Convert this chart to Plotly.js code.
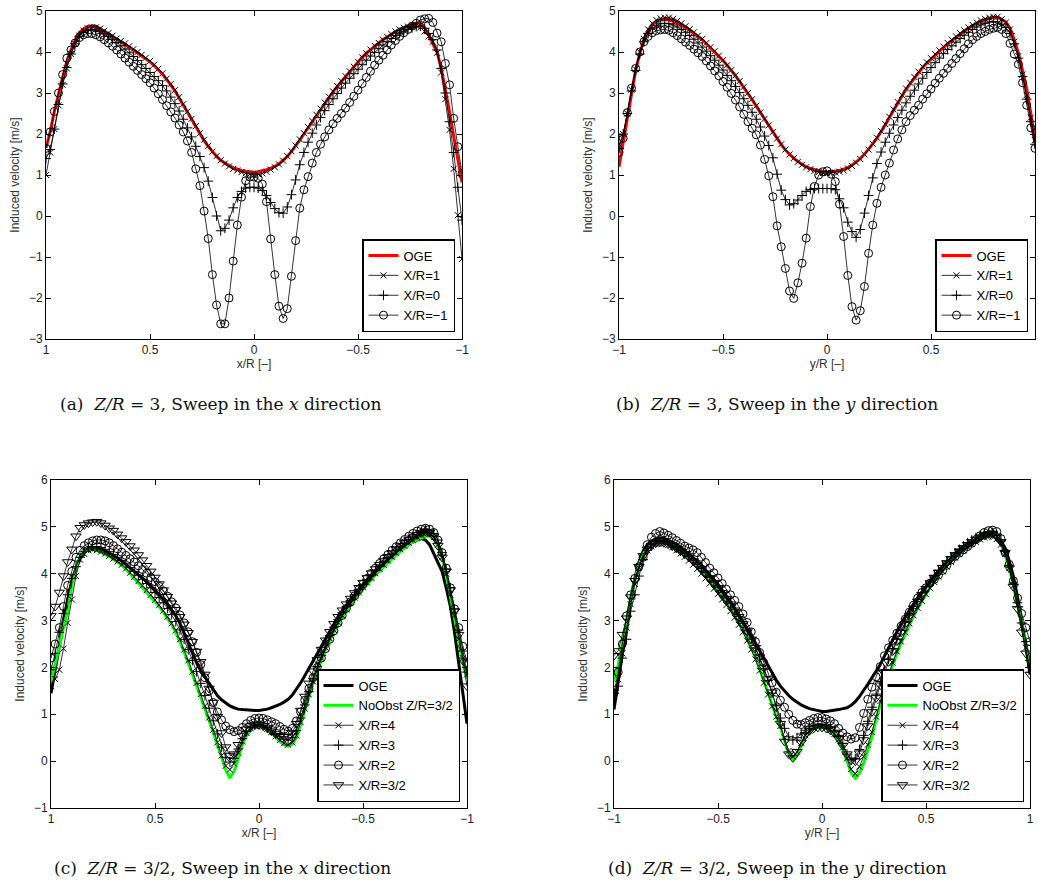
<!DOCTYPE html>
<html>
<head>
<meta charset="utf-8">
<script src="https://cdn.plot.ly/plotly-3.0.1.min.js"></script>
<style>html,body{margin:0;padding:0;background:#fff;}#chart{width:1038px;height:891px;}</style>
</head>
<body>
<div id="chart"></div>
<script>
// x grids (panels a,c use the reversed x/R sweep; b,d the y/R sweep)
const xDesc = [1,0.98,0.96,0.94,0.92,0.9,0.88,0.86,0.84,0.82,
0.8,0.78,0.76,0.74,0.72,0.7,0.68,0.66,0.64,0.62,
0.6,0.58,0.56,0.54,0.52,0.5,0.48,0.46,0.44,0.42,
0.4,0.38,0.36,0.34,0.32,0.3,0.28,0.26,0.24,0.22,
0.2,0.18,0.16,0.14,0.12,0.1,0.08,0.06,0.04,0.02,
0,-0.02,-0.04,-0.06,-0.08,-0.1,-0.12,-0.14,-0.16,-0.18,
-0.2,-0.22,-0.24,-0.26,-0.28,-0.3,-0.32,-0.34,-0.36,-0.38,
-0.4,-0.42,-0.44,-0.46,-0.48,-0.5,-0.52,-0.54,-0.56,-0.58,
-0.6,-0.62,-0.64,-0.66,-0.68,-0.7,-0.72,-0.74,-0.76,-0.78,
-0.8,-0.82,-0.84,-0.86,-0.88,-0.9,-0.92,-0.94,-0.96,-0.98,
-1];
const xAsc = [-1,-0.98,-0.96,-0.94,-0.92,-0.9,-0.88,-0.86,-0.84,-0.82,
-0.8,-0.78,-0.76,-0.74,-0.72,-0.7,-0.68,-0.66,-0.64,-0.62,
-0.6,-0.58,-0.56,-0.54,-0.52,-0.5,-0.48,-0.46,-0.44,-0.42,
-0.4,-0.38,-0.36,-0.34,-0.32,-0.3,-0.28,-0.26,-0.24,-0.22,
-0.2,-0.18,-0.16,-0.14,-0.12,-0.1,-0.08,-0.06,-0.04,-0.02,
0,0.02,0.04,0.06,0.08,0.1,0.12,0.14,0.16,0.18,
0.2,0.22,0.24,0.26,0.28,0.3,0.32,0.34,0.36,0.38,
0.4,0.42,0.44,0.46,0.48,0.5,0.52,0.54,0.56,0.58,
0.6,0.62,0.64,0.66,0.68,0.7,0.72,0.74,0.76,0.78,
0.8,0.82,0.84,0.86,0.88,0.9,0.92,0.94,0.96,0.98,
1];

// ---- Panel (a): Z/R=3, sweep in x (values listed in xDesc order) ----
const ogeA = [1.66,2.05,2.55,2.98,3.38,3.76,4.05,4.28,4.47,4.56,
4.62,4.64,4.63,4.56,4.5,4.44,4.38,4.31,4.25,4.19,
4.12,4.05,3.98,3.91,3.84,3.76,3.67,3.57,3.46,3.33,
3.2,3.05,2.88,2.71,2.53,2.35,2.17,2.0,1.84,1.7,
1.56,1.45,1.36,1.29,1.23,1.18,1.14,1.11,1.09,1.08,
1.07,1.08,1.1,1.13,1.17,1.21,1.27,1.35,1.45,1.57,
1.7,1.85,2.0,2.15,2.3,2.45,2.6,2.75,2.9,3.03,
3.16,3.28,3.4,3.52,3.63,3.76,3.87,3.97,4.06,4.15,
4.22,4.3,4.37,4.44,4.5,4.56,4.6,4.64,4.67,4.7,
4.7,4.6,4.42,4.2,4.0,3.6,3.1,2.55,1.95,1.38,
0.82];
const xr1A = [1.0,1.55,2.12,2.7,3.2,3.6,3.95,4.2,4.4,4.52,
4.58,4.6,4.6,4.57,4.52,4.46,4.4,4.33,4.27,4.21,
4.14,4.07,4.0,3.93,3.86,3.78,3.69,3.59,3.48,3.35,
3.22,3.07,2.9,2.73,2.55,2.37,2.19,2.02,1.86,1.71,
1.57,1.46,1.36,1.28,1.21,1.15,1.11,1.07,1.04,1.02,
1.01,1.02,1.04,1.08,1.13,1.19,1.26,1.35,1.46,1.58,
1.72,1.87,2.02,2.17,2.32,2.47,2.62,2.77,2.91,3.04,
3.17,3.29,3.41,3.53,3.64,3.76,3.87,3.97,4.06,4.15,
4.22,4.3,4.37,4.44,4.5,4.55,4.59,4.62,4.64,4.64,
4.6,4.5,4.38,4.25,3.98,3.5,2.85,2.1,1.15,0.02,
-1.05];
const xr0A = [1.4,1.62,2.12,2.72,3.22,3.62,3.95,4.2,4.38,4.48,
4.53,4.55,4.54,4.5,4.44,4.38,4.31,4.23,4.15,4.07,
3.98,3.89,3.79,3.69,3.6,3.5,3.4,3.3,3.18,3.05,
2.9,2.74,2.56,2.36,2.15,1.93,1.7,1.45,1.18,0.85,
0.45,0.0,-0.36,-0.3,-0.1,0.2,0.45,0.6,0.68,0.7,
0.7,0.68,0.62,0.5,0.33,0.18,0.08,0.07,0.22,0.52,
0.88,1.25,1.55,1.8,2.02,2.22,2.4,2.57,2.72,2.86,
2.99,3.12,3.24,3.36,3.47,3.58,3.69,3.8,3.9,3.99,
4.08,4.17,4.25,4.33,4.4,4.46,4.51,4.55,4.59,4.62,
4.63,4.58,4.45,4.3,4.05,3.6,3.0,2.3,1.55,0.7,
-0.1];
const xrm1A = [1.65,2.05,2.55,3.0,3.45,3.85,4.05,4.22,4.35,4.42,
4.45,4.45,4.42,4.37,4.3,4.22,4.14,4.05,3.95,3.85,
3.75,3.65,3.55,3.45,3.35,3.25,3.12,2.98,2.84,2.69,
2.54,2.39,2.22,2.05,1.83,1.55,1.15,0.74,0.12,-0.55,
-1.43,-2.17,-2.63,-2.63,-2.0,-1.1,-0.22,0.46,0.86,0.95,
0.95,0.92,0.78,0.35,-0.56,-1.43,-2.2,-2.5,-2.26,-1.47,
-0.6,0.19,0.64,0.96,1.29,1.55,1.75,1.93,2.1,2.25,
2.38,2.5,2.63,2.77,2.92,3.07,3.23,3.38,3.53,3.68,
3.8,3.92,4.05,4.17,4.28,4.38,4.47,4.55,4.63,4.7,
4.78,4.81,4.82,4.72,4.46,4.25,3.72,3.2,2.38,1.69,
1.03];

// ---- Panel (b): Z/R=3, sweep in y (xAsc order) ----
const ogeB = [1.2,1.8,2.45,3.05,3.55,3.97,4.3,4.52,4.66,4.74,
4.78,4.8,4.79,4.76,4.71,4.66,4.6,4.53,4.46,4.38,
4.3,4.2,4.1,4.0,3.9,3.79,3.67,3.55,3.42,3.28,
3.14,2.99,2.84,2.68,2.52,2.36,2.2,2.04,1.88,1.74,
1.61,1.5,1.41,1.33,1.26,1.2,1.16,1.13,1.1,1.08,
1.07,1.08,1.09,1.11,1.14,1.18,1.24,1.31,1.4,1.51,
1.63,1.76,1.9,2.05,2.22,2.4,2.58,2.76,2.93,3.09,
3.23,3.37,3.5,3.62,3.73,3.83,3.93,4.02,4.11,4.2,
4.28,4.36,4.44,4.51,4.58,4.64,4.7,4.75,4.79,4.82,
4.85,4.84,4.8,4.73,4.58,4.3,3.98,3.55,3.1,2.5,
1.8];
const xr1B = [1.75,2.0,2.5,3.08,3.58,4.0,4.32,4.55,4.7,4.78,
4.82,4.84,4.84,4.81,4.76,4.7,4.63,4.56,4.48,4.4,
4.32,4.22,4.12,4.02,3.91,3.8,3.68,3.56,3.43,3.29,
3.15,3.0,2.85,2.69,2.53,2.37,2.21,2.05,1.89,1.75,
1.62,1.5,1.41,1.32,1.25,1.19,1.14,1.1,1.07,1.05,
1.04,1.05,1.06,1.08,1.11,1.16,1.22,1.3,1.39,1.5,
1.62,1.76,1.91,2.07,2.24,2.42,2.6,2.78,2.95,3.11,
3.25,3.39,3.52,3.64,3.75,3.85,3.95,4.04,4.13,4.22,
4.3,4.38,4.46,4.53,4.6,4.66,4.72,4.77,4.81,4.84,
4.86,4.86,4.8,4.72,4.55,4.25,3.9,3.45,2.95,2.4,
1.85];
const xr0B = [1.65,2.0,2.5,3.05,3.55,3.95,4.25,4.45,4.58,4.65,
4.69,4.7,4.69,4.66,4.61,4.55,4.48,4.4,4.31,4.22,
4.12,4.02,3.91,3.8,3.68,3.56,3.43,3.3,3.16,3.01,
2.86,2.7,2.53,2.36,2.17,1.95,1.72,1.42,1.02,0.63,
0.4,0.27,0.3,0.39,0.5,0.6,0.65,0.67,0.67,0.67,
0.67,0.67,0.64,0.42,0.2,-0.15,-0.38,-0.52,-0.33,0.07,
0.5,0.93,1.28,1.56,1.8,2.02,2.22,2.4,2.58,2.76,
2.92,3.07,3.22,3.36,3.5,3.62,3.74,3.85,3.96,4.06,
4.15,4.24,4.33,4.41,4.48,4.55,4.61,4.66,4.7,4.73,
4.74,4.73,4.68,4.6,4.45,4.2,3.85,3.4,2.85,2.3,
1.75];
const xrm1B = [1.55,1.9,2.52,3.12,3.6,4.0,4.25,4.38,4.47,4.52,
4.54,4.55,4.53,4.47,4.4,4.32,4.24,4.16,4.07,3.98,
3.89,3.78,3.66,3.54,3.42,3.28,3.14,2.99,2.83,2.66,
2.48,2.3,2.14,1.98,1.73,1.38,0.98,0.47,-0.24,-0.75,
-1.28,-1.83,-2.01,-1.63,-1.15,-0.54,0.23,0.72,1.0,1.08,
1.1,1.02,0.84,0.29,-0.5,-1.45,-2.21,-2.54,-2.31,-1.72,
-0.91,-0.22,0.31,0.7,1.0,1.29,1.61,1.88,2.1,2.3,
2.45,2.58,2.7,2.85,2.98,3.1,3.24,3.36,3.48,3.6,
3.72,3.84,3.96,4.08,4.2,4.3,4.38,4.45,4.5,4.55,
4.58,4.6,4.55,4.45,4.21,3.95,3.7,3.25,2.7,2.15,
1.65];

// ---- Panel (c): Z/R=3/2, sweep in x (xDesc order) ----
const ogeC = [1.45,1.95,2.5,3.0,3.45,3.85,4.12,4.32,4.45,4.52,
4.55,4.55,4.53,4.49,4.44,4.39,4.33,4.27,4.2,4.13,
4.06,3.99,3.91,3.83,3.74,3.65,3.55,3.45,3.34,3.22,
3.1,2.94,2.73,2.5,2.3,2.1,1.93,1.8,1.67,1.53,
1.4,1.31,1.24,1.18,1.14,1.11,1.1,1.09,1.08,1.08,
1.08,1.09,1.11,1.14,1.17,1.21,1.26,1.32,1.41,1.53,
1.67,1.82,1.98,2.14,2.3,2.47,2.63,2.79,2.94,3.08,
3.21,3.33,3.45,3.56,3.67,3.77,3.87,3.96,4.05,4.14,
4.22,4.3,4.38,4.45,4.52,4.58,4.63,4.68,4.72,4.75,
4.72,4.62,4.42,4.22,4.05,3.7,3.3,2.75,2.15,1.45,
0.8];
const noObstC = [1.7,2.05,2.45,2.85,3.2,3.75,4.12,4.38,4.48,4.52,
4.52,4.5,4.46,4.42,4.37,4.31,4.25,4.18,4.1,4.0,
3.9,3.81,3.72,3.62,3.52,3.41,3.3,3.18,3.05,2.91,
2.75,2.55,2.33,2.1,1.86,1.62,1.38,1.13,0.88,0.62,
0.35,0.08,-0.18,-0.36,-0.22,0.05,0.35,0.55,0.67,0.73,
0.74,0.72,0.67,0.6,0.5,0.42,0.35,0.32,0.36,0.5,
0.78,1.08,1.38,1.66,1.92,2.16,2.38,2.58,2.76,2.92,
3.07,3.2,3.33,3.45,3.56,3.67,3.77,3.87,3.97,4.06,
4.15,4.24,4.32,4.4,4.48,4.55,4.62,4.68,4.73,4.77,
4.8,4.8,4.74,4.6,4.35,4.0,3.55,3.05,2.55,2.1,
1.75];
const xr4C = [1.6,1.75,1.95,2.4,2.95,3.45,3.95,4.3,4.42,4.5,
4.52,4.5,4.47,4.43,4.38,4.32,4.26,4.19,4.11,4.02,
3.93,3.84,3.75,3.65,3.55,3.44,3.33,3.21,3.08,2.94,
2.79,2.6,2.38,2.15,1.91,1.67,1.43,1.18,0.93,0.67,
0.4,0.12,-0.1,-0.18,-0.05,0.18,0.42,0.6,0.7,0.75,
0.76,0.74,0.69,0.62,0.53,0.45,0.38,0.35,0.4,0.55,
0.83,1.12,1.42,1.7,1.96,2.2,2.42,2.62,2.8,2.96,
3.11,3.24,3.37,3.49,3.6,3.71,3.81,3.91,4.01,4.1,
4.19,4.28,4.36,4.44,4.52,4.59,4.66,4.72,4.78,4.83,
4.86,4.85,4.78,4.62,4.35,4.0,3.55,3.1,2.6,2.2,
1.85];
const xr3C = [1.95,2.3,2.75,3.15,3.55,3.9,4.15,4.35,4.48,4.55,
4.58,4.58,4.56,4.52,4.47,4.41,4.35,4.28,4.21,4.13,
4.05,3.97,3.88,3.79,3.7,3.6,3.49,3.38,3.26,3.13,
2.98,2.8,2.6,2.38,2.15,1.91,1.66,1.4,1.13,0.86,
0.58,0.3,0.08,-0.02,0.06,0.26,0.48,0.63,0.72,0.77,
0.78,0.76,0.72,0.66,0.58,0.52,0.47,0.45,0.5,0.65,
0.92,1.2,1.48,1.76,2.02,2.26,2.48,2.68,2.86,3.02,
3.17,3.3,3.43,3.55,3.66,3.77,3.87,3.97,4.07,4.16,
4.25,4.34,4.42,4.5,4.58,4.65,4.72,4.78,4.84,4.9,
4.94,4.93,4.86,4.72,4.45,4.1,3.7,3.25,2.8,2.35,
1.9];
const xr2C = [2.2,2.5,2.85,3.3,3.75,4.05,4.35,4.5,4.6,4.66,
4.7,4.72,4.72,4.7,4.66,4.6,4.53,4.46,4.39,4.32,
4.25,4.17,4.09,4.01,3.92,3.83,3.73,3.63,3.52,3.4,
3.27,3.12,2.95,2.76,2.55,2.32,2.06,1.78,1.5,1.25,
1.05,0.88,0.75,0.67,0.63,0.65,0.72,0.8,0.87,0.91,
0.92,0.91,0.88,0.84,0.8,0.74,0.68,0.64,0.7,0.86,
1.05,1.3,1.55,1.78,2.0,2.2,2.4,2.6,2.78,2.95,
3.11,3.26,3.4,3.53,3.66,3.78,3.9,4.01,4.12,4.22,
4.32,4.41,4.5,4.58,4.66,4.73,4.8,4.86,4.91,4.95,
4.97,4.95,4.88,4.72,4.45,4.12,3.7,3.25,2.85,2.45,
2.1];
const xr15C = [3.1,3.3,3.6,3.95,4.25,4.52,4.8,4.98,5.04,5.08,
5.1,5.11,5.08,5.03,4.97,4.92,4.84,4.76,4.68,4.59,
4.5,4.4,4.29,4.17,4.05,3.92,3.78,3.65,3.51,3.37,
3.23,3.08,2.92,2.74,2.55,2.34,2.12,1.85,1.55,1.25,
0.95,0.6,0.3,0.12,0.15,0.35,0.55,0.68,0.75,0.78,
0.78,0.75,0.7,0.64,0.58,0.54,0.52,0.53,0.6,0.8,
1.08,1.38,1.66,1.92,2.16,2.38,2.58,2.76,2.93,3.08,
3.22,3.35,3.47,3.59,3.7,3.81,3.91,4.01,4.1,4.19,
4.28,4.36,4.44,4.52,4.59,4.66,4.72,4.78,4.83,4.87,
4.9,4.88,4.8,4.6,4.35,4.05,3.65,3.2,2.7,2.15,
1.6];

// ---- Panel (d): Z/R=3/2, sweep in y (xAsc order) ----
const ogeD = [1.1,1.7,2.35,2.95,3.45,3.9,4.25,4.48,4.62,4.7,
4.74,4.76,4.75,4.72,4.68,4.63,4.57,4.5,4.43,4.35,
4.27,4.18,4.08,3.98,3.88,3.77,3.65,3.53,3.4,3.26,
3.12,2.98,2.83,2.68,2.52,2.36,2.2,2.04,1.88,1.73,
1.6,1.49,1.4,1.32,1.26,1.2,1.16,1.12,1.1,1.08,
1.06,1.06,1.07,1.08,1.1,1.12,1.14,1.19,1.27,1.38,
1.5,1.64,1.78,1.92,2.06,2.24,2.42,2.6,2.77,2.93,
3.08,3.22,3.36,3.49,3.61,3.73,3.84,3.95,4.05,4.15,
4.24,4.33,4.42,4.5,4.57,4.63,4.68,4.73,4.77,4.8,
4.82,4.82,4.78,4.7,4.55,4.28,3.95,3.5,3.0,2.45,
1.85];
const noObstD = [1.7,2.05,2.5,3.0,3.45,3.85,4.2,4.42,4.55,4.63,
4.68,4.7,4.69,4.66,4.61,4.55,4.48,4.41,4.33,4.24,
4.15,4.05,3.95,3.84,3.73,3.62,3.5,3.38,3.25,3.11,
2.96,2.8,2.62,2.43,2.22,1.98,1.72,1.45,1.17,0.95,
0.72,0.45,0.15,0.03,0.12,0.32,0.5,0.62,0.69,0.72,
0.72,0.7,0.65,0.56,0.43,0.25,0.0,-0.25,-0.36,-0.25,
-0.05,0.22,0.52,0.88,1.22,1.52,1.8,2.06,2.3,2.52,
2.72,2.91,3.09,3.26,3.42,3.57,3.71,3.84,3.96,4.07,
4.17,4.27,4.36,4.44,4.51,4.58,4.64,4.69,4.74,4.78,
4.8,4.8,4.75,4.63,4.42,4.12,3.75,3.35,2.92,2.5,
2.1];
const xr4D = [1.4,1.75,2.3,2.85,3.35,3.78,4.12,4.36,4.5,4.58,
4.63,4.65,4.64,4.61,4.56,4.5,4.43,4.36,4.28,4.19,
4.1,4.0,3.9,3.79,3.68,3.57,3.45,3.33,3.2,3.06,
2.91,2.75,2.57,2.38,2.17,1.93,1.67,1.42,1.17,0.95,
0.75,0.5,0.22,0.1,0.2,0.39,0.55,0.65,0.71,0.74,
0.74,0.72,0.67,0.58,0.46,0.29,0.06,-0.17,-0.27,-0.12,
0.1,0.35,0.62,0.95,1.28,1.57,1.85,2.1,2.34,2.55,
2.75,2.94,3.11,3.27,3.42,3.56,3.69,3.82,3.94,4.05,
4.15,4.25,4.34,4.42,4.5,4.57,4.63,4.68,4.73,4.77,
4.79,4.79,4.74,4.62,4.42,4.12,3.75,3.33,2.88,2.42,
1.95];
const xr3D = [1.45,1.6,2.2,2.6,3.2,3.55,3.95,4.3,4.5,4.62,
4.68,4.7,4.69,4.66,4.61,4.56,4.5,4.43,4.36,4.28,
4.2,4.11,4.02,3.92,3.82,3.71,3.6,3.48,3.36,3.23,
3.09,2.94,2.78,2.6,2.41,2.2,1.97,1.72,1.45,1.18,
0.92,0.7,0.52,0.45,0.5,0.58,0.66,0.73,0.77,0.79,
0.79,0.77,0.73,0.66,0.55,0.38,0.15,0.03,0.05,0.25,
0.55,0.85,1.15,1.43,1.7,1.95,2.18,2.4,2.6,2.79,
2.97,3.14,3.3,3.45,3.59,3.72,3.84,3.96,4.07,4.17,
4.27,4.36,4.44,4.52,4.59,4.66,4.72,4.77,4.82,4.86,
4.88,4.88,4.82,4.7,4.48,4.18,3.8,3.38,2.95,2.55,
2.15];
const xr2D = [1.45,1.9,2.5,3.1,3.55,3.9,4.15,4.35,4.62,4.78,
4.86,4.9,4.87,4.82,4.77,4.71,4.65,4.59,4.55,4.51,
4.45,4.35,4.24,4.12,4.02,3.91,3.79,3.67,3.55,3.43,
3.3,3.14,2.96,2.76,2.55,2.32,2.1,1.88,1.67,1.47,
1.3,1.15,1.0,0.87,0.79,0.78,0.82,0.87,0.91,0.93,
0.93,0.9,0.86,0.8,0.7,0.6,0.52,0.47,0.5,0.72,
1.02,1.32,1.58,1.8,2.02,2.25,2.42,2.58,2.73,2.88,
3.03,3.18,3.33,3.48,3.6,3.7,3.8,3.88,3.97,4.07,
4.18,4.29,4.37,4.44,4.51,4.58,4.65,4.73,4.81,4.88,
4.92,4.93,4.9,4.75,4.45,4.2,3.85,3.48,3.15,2.85,
2.55];
const xr15D = [2.25,2.35,2.7,3.05,3.5,3.85,4.15,4.38,4.52,4.6,
4.65,4.67,4.66,4.63,4.59,4.54,4.48,4.42,4.35,4.27,
4.19,4.1,4.01,3.91,3.81,3.7,3.59,3.47,3.35,3.22,
3.08,2.93,2.77,2.6,2.42,2.22,2.0,1.75,1.47,1.15,
0.8,0.42,0.15,0.07,0.2,0.4,0.56,0.65,0.7,0.72,
0.72,0.7,0.66,0.59,0.48,0.33,0.15,0.02,0.0,0.17,
0.45,0.75,1.05,1.35,1.62,1.88,2.12,2.35,2.56,2.75,
2.93,3.1,3.26,3.41,3.55,3.68,3.8,3.92,4.03,4.13,
4.23,4.32,4.4,4.48,4.55,4.62,4.68,4.73,4.78,4.82,
4.85,4.85,4.8,4.68,4.45,4.12,3.72,3.25,2.75,2.3,
1.85];

// tick labels / titles
const xTickVals = [1, 0.5, 0, -0.5, -1];
const xTickText = ['1', '0.5', '0', '\u22120.5', '\u22121'];
const yTickTop = [-3,-2,-1,0,1,2,3,4,5];
const yTickTopText = ['\u22123','\u22122','\u22121','0','1','2','3','4','5'];
const yTickBot = [-1,0,1,2,3,4,5,6];
const yTickBotText = ['\u22121','0','1','2','3','4','5','6'];
const captions = [
  '(a)&nbsp;&nbsp;<i>Z/R</i> = 3, Sweep in the <i>x</i> direction',
  '(b)&nbsp;&nbsp;<i>Z/R</i> = 3, Sweep in the <i>y</i> direction',
  '(c)&nbsp;&nbsp;<i>Z/R</i> = 3/2, Sweep in the <i>x</i> direction',
  '(d)&nbsp;&nbsp;<i>Z/R</i> = 3/2, Sweep in the <i>y</i> direction'
];

// ---- styling helpers ----
const MK = {
  x:   {symbol:'x-thin',   size:6, color:'black', line:{color:'black', width:1}},
  plus:{symbol:'cross-thin', size:7, color:'black', line:{color:'black', width:1}},
  o:   {symbol:'circle-open', size:8, color:'black', line:{color:'black', width:1}},
  tri: {symbol:'triangle-down-open', size:9, color:'black', line:{color:'black', width:1}}
};
function thick(x, y, name, color, xa, ya, lg) {
  return {x:x, y:y, name:name, type:'scatter', mode:'lines', xaxis:xa, yaxis:ya, legend:lg,
          line:{color:color, width:3}, hoverinfo:'skip'};
}
function marked(x, y, name, mk, xa, ya, lg) {
  return {x:x, y:y, name:name, type:'scatter', mode:'lines+markers', xaxis:xa, yaxis:ya, legend:lg,
          line:{color:'black', width:0.8}, marker:mk, hoverinfo:'skip'};
}

const data = [
  thick(xDesc, ogeA, 'OGE', '#ff0000', 'x', 'y', 'legend'),
  marked(xDesc, xr1A, 'X/R=1', MK.x, 'x', 'y', 'legend'),
  marked(xDesc, xr0A, 'X/R=0', MK.plus, 'x', 'y', 'legend'),
  marked(xDesc, xrm1A, 'X/R=\u22121', MK.o, 'x', 'y', 'legend'),

  thick(xAsc, ogeB, 'OGE', '#ff0000', 'x2', 'y2', 'legend2'),
  marked(xAsc, xr1B, 'X/R=1', MK.x, 'x2', 'y2', 'legend2'),
  marked(xAsc, xr0B, 'X/R=0', MK.plus, 'x2', 'y2', 'legend2'),
  marked(xAsc, xrm1B, 'X/R=\u22121', MK.o, 'x2', 'y2', 'legend2'),

  thick(xDesc, ogeC, 'OGE', '#000000', 'x3', 'y3', 'legend3'),
  thick(xDesc, noObstC, 'NoObst Z/R=3/2', '#00ff00', 'x3', 'y3', 'legend3'),
  marked(xDesc, xr4C, 'X/R=4', MK.x, 'x3', 'y3', 'legend3'),
  marked(xDesc, xr3C, 'X/R=3', MK.plus, 'x3', 'y3', 'legend3'),
  marked(xDesc, xr2C, 'X/R=2', MK.o, 'x3', 'y3', 'legend3'),
  marked(xDesc, xr15C, 'X/R=3/2', MK.tri, 'x3', 'y3', 'legend3'),

  thick(xAsc, ogeD, 'OGE', '#000000', 'x4', 'y4', 'legend4'),
  thick(xAsc, noObstD, 'NoObst Z/R=3/2', '#00ff00', 'x4', 'y4', 'legend4'),
  marked(xAsc, xr4D, 'X/R=4', MK.x, 'x4', 'y4', 'legend4'),
  marked(xAsc, xr3D, 'X/R=3', MK.plus, 'x4', 'y4', 'legend4'),
  marked(xAsc, xr2D, 'X/R=2', MK.o, 'x4', 'y4', 'legend4'),
  marked(xAsc, xr15D, 'X/R=3/2', MK.tri, 'x4', 'y4', 'legend4')
];

const W = 1038, H = 891;
const FONT = 'Liberation Sans, Arial, Helvetica, sans-serif';
function px(a, b) { return [a / W, b / W]; }
function py(top, bottom) { return [1 - bottom / H, 1 - top / H]; }

function xAxis(dom, anchor, range, title) {
  return {domain:dom, anchor:anchor, range:range, tickvals:xTickVals, ticktext:xTickText,
    ticks:'inside', ticklen:5, tickwidth:1, tickcolor:'#000', mirror:'ticks', showline:true,
    linecolor:'#000', linewidth:1, showgrid:false, zeroline:false,
    tickfont:{family:FONT, size:12, color:'#222'},
    title:{text:title, font:{family:FONT, size:12, color:'#333'}, standoff:3}};
}
function yAxis(dom, anchor, range, vals, text) {
  return {domain:dom, anchor:anchor, range:range, tickvals:vals, ticktext:text,
    ticks:'inside', ticklen:5, tickwidth:1, tickcolor:'#000', mirror:'ticks', showline:true,
    linecolor:'#000', linewidth:1, showgrid:false, zeroline:false,
    tickfont:{family:FONT, size:12, color:'#222'},
    title:{text:'Induced velocity [m/s]', font:{family:FONT, size:12, color:'#333'}, standoff:6}};
}
function legendAt(right, bottom) {
  return {x:right / W, y:1 - bottom / H, xanchor:'right', yanchor:'bottom',
    bgcolor:'#fff', bordercolor:'#000', borderwidth:1.5, tracegroupgap:0,
    font:{family:FONT, size:13, color:'#000'}};
}

const layout = {
  width:W, height:H, margin:{l:0, r:0, t:0, b:0},
  paper_bgcolor:'#fff', plot_bgcolor:'#fff', showlegend:true,
  xaxis: xAxis(px(46, 462), 'y', [1, -1], 'x/R [\u2013]'),
  yaxis: yAxis(py(11, 339), 'x', [-3, 5], yTickTop, yTickTopText),
  xaxis2: xAxis(px(619, 1035), 'y2', [-1, 1], 'y/R [\u2013]'),
  yaxis2: yAxis(py(11, 339), 'x2', [-3, 5], yTickTop, yTickTopText),
  xaxis3: xAxis(px(51, 467), 'y3', [1, -1], 'x/R [\u2013]'),
  yaxis3: yAxis(py(480, 808), 'x3', [-1, 6], yTickBot, yTickBotText),
  xaxis4: xAxis(px(614, 1030), 'y4', [-1, 1], 'y/R [\u2013]'),
  yaxis4: yAxis(py(480, 808), 'x4', [-1, 6], yTickBot, yTickBotText),
  legend: legendAt(455, 332),
  legend2: legendAt(1028, 332),
  legend3: legendAt(460, 802),
  legend4: legendAt(1024, 802),
  annotations: [
    {text:captions[0], x:220 / W, y:1 - 404 / H},
    {text:captions[1], x:777 / W, y:1 - 404 / H},
    {text:captions[2], x:222 / W, y:1 - 868 / H},
    {text:captions[3], x:777 / W, y:1 - 868 / H}
  ].map(a => Object.assign(a, {xref:'paper', yref:'paper', xanchor:'center', yanchor:'middle',
    showarrow:false, font:{family:'DejaVu Serif, serif', size:17, color:'#111'}}))
};

Plotly.newPlot('chart', data, layout, {staticPlot:true, displayModeBar:false});
</script>
</body>
</html>
